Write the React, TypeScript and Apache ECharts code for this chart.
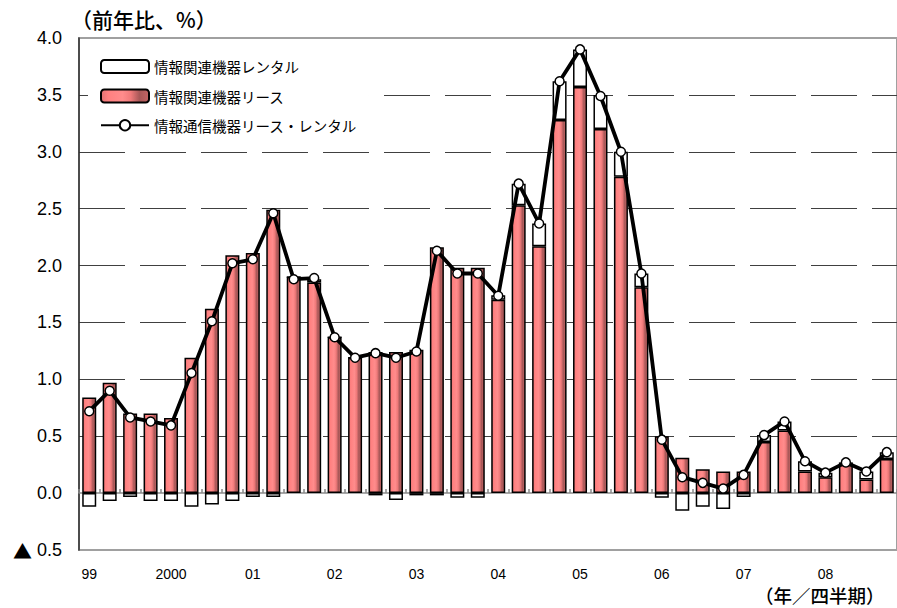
import React, { useEffect, useRef } from "react";
import * as echarts from "echarts";

const years = ["99", "2000", "01", "02", "03", "04", "05", "06", "07", "08"];
const quarters = [1, 2, 3, 4];

// 情報関連機器リース
const leaseValues = [
  0.84, 0.97, 0.70, 0.70,
  0.66, 1.19, 1.62, 2.09,
  2.11, 2.49, 1.90, 1.85,
  1.37, 1.19, 1.24, 1.24,
  1.26, 2.16, 1.98, 1.98,
  1.70, 2.53, 2.17, 3.28,
  3.57, 3.20, 2.78, 1.81,
  0.50, 0.31, 0.21, 0.19,
  0.19, 0.45, 0.55, 0.19,
  0.14, 0.25, 0.12, 0.30,
];

// 情報関連機器レンタル
const rentalValues = [
  -0.12, -0.07, -0.035, -0.07,
  -0.07, -0.12, -0.10, -0.07,
  -0.035, -0.035, 0, 0.03,
  0, 0, -0.02, -0.06,
  -0.02, -0.02, -0.04, -0.04,
  0.04, 0.19, 0.20, 0.34,
  0.33, 0.30, 0.22, 0.12,
  -0.04, -0.155, -0.12, -0.14,
  -0.035, 0.06, 0.08, 0.09,
  0.04, 0.02, 0.07, 0.06,
];

// 情報通信機器リース・レンタル
const totalValues = [
  0.72, 0.90, 0.665, 0.63,
  0.595, 1.055, 1.51, 2.02,
  2.055, 2.46, 1.88, 1.89,
  1.37, 1.19, 1.23, 1.19,
  1.245, 2.13, 1.93, 1.93,
  1.735, 2.72, 2.37, 3.62,
  3.90, 3.49, 3.00, 1.93,
  0.47, 0.14, 0.09, 0.04,
  0.16, 0.51, 0.63, 0.28,
  0.18, 0.27, 0.19, 0.36,
];

const seriesNames = ["情報関連機器レンタル", "情報関連機器リース", "情報通信機器リース・レンタル"];
const titleText = "（前年比、%）";
const unitText = "（年／四半期）";

const categories: string[] = [];
years.forEach((y) => quarters.forEach((q) => categories.push(`${y}-${q}`)));

const JP = "'Noto Sans CJK JP', 'Noto Sans', sans-serif";
const NUM = "'Liberation Sans', Arial, 'Noto Sans CJK JP', sans-serif";

export default function App() {
  const ref = useRef<HTMLDivElement>(null);

  useEffect(() => {
    if (!ref.current) return;
    const chart = echarts.init(ref.current, undefined, { renderer: "svg" });

    const barGradient = new echarts.graphic.LinearGradient(0, 0, 1, 0, [
      { offset: 0, color: "#e07272" },
      { offset: 0.15, color: "#ff8080" },
      { offset: 0.45, color: "#ff8c8c" },
      { offset: 0.62, color: "#f07a7a" },
      { offset: 0.8, color: "#a85858" },
      { offset: 1, color: "#c46464" },
    ]);

    const splitColors = ["rgba(0,0,0,0)", "rgba(0,0,0,0)"];
    for (let i = 0; i < 7; i++) splitColors.push("#404040");
    splitColors.push("rgba(0,0,0,0)");

    chart.setOption({
      animation: false,
      backgroundColor: "#fff",
      grid: {
        left: 79,
        top: 38,
        width: 824,
        bottom: 58,
        show: true,
        borderColor: "#a0a0a0",
        borderWidth: 2,
        backgroundColor: "transparent",
      },
      legend: {
        orient: "vertical",
        left: 88,
        top: 52,
        itemWidth: 48,
        itemHeight: 13,
        itemGap: 14.5,
        padding: [7, 12, 7, 12],
        backgroundColor: "#fff",
        selectedMode: false,
        data: seriesNames,
        textStyle: { fontFamily: JP, fontSize: 14.5, color: "#000" },
      },
      xAxis: [
        {
          type: "category",
          data: categories,
          position: "bottom",
          axisLine: { show: false, onZero: false },
          axisTick: { show: false },
          splitLine: { show: false },
          axisLabel: {
            interval: 0,
            margin: 17,
            fontFamily: NUM,
            fontSize: 14,
            lineHeight: 14,
            color: "#000",
            formatter: (v: string) => {
              const [y, q] = v.split("-");
              return q === "1" ? y : "";
            },
          },
        },
        {
          type: "category",
          data: categories,
          position: "top",
          axisLine: { show: true, onZero: true, lineStyle: { color: "#8a8a8a", width: 1.5 } },
          axisTick: { show: true, interval: 0, length: 4, lineStyle: { color: "#8a8a8a", width: 1.5 } },
          axisLabel: { show: false },
          splitLine: { show: false },
        },
      ],
      yAxis: {
        type: "value",
        min: -0.5,
        max: 4.0,
        interval: 0.5,
        axisLine: { show: true, lineStyle: { color: "#303030", width: 1.5 } },
        axisTick: { show: false },
        axisLabel: {
          margin: 17,
          fontFamily: NUM,
          fontSize: 18,
          color: "#000",
          formatter: (v: number) => (v < 0 ? "{tri|▲} " + Math.abs(v).toFixed(1) : v.toFixed(1)),
          rich: {
            tri: { fontFamily: JP, fontSize: 19, color: "#000" },
          },
        },
        splitLine: {
          show: true,
          lineStyle: { color: splitColors, width: 1, type: [46, 15] },
        },
      },
      series: [
        {
          name: seriesNames[1],
          type: "bar",
          stack: "total",
          barWidth: 14,
          data: leaseValues,
          itemStyle: { color: barGradient, borderColor: "#000", borderWidth: 1.5 },
        },
        {
          name: seriesNames[0],
          type: "bar",
          stack: "total",
          barWidth: 14,
          data: rentalValues,
          itemStyle: { color: "#fff", borderColor: "#000", borderWidth: 1.5 },
        },
        {
          name: seriesNames[2],
          type: "line",
          data: totalValues,
          symbol: "circle",
          symbolSize: 9,
          z: 5,
          lineStyle: { color: "#000", width: 3.8 },
          itemStyle: { color: "#fff", borderColor: "#000", borderWidth: 1.5 },
        },
      ],
      graphic: [
        {
          type: "text",
          x: 71,
          y: 19,
          style: {
            text: titleText,
            font: `500 21px ${JP}`,
            lineHeight: 22,
            fill: "#000",
            verticalAlign: "middle",
          },
        },
        {
          type: "text",
          x: 755,
          y: 594.5,
          style: {
            text: unitText,
            font: `500 18.5px ${JP}`,
            lineHeight: 19,
            fill: "#000",
            verticalAlign: "middle",
          },
        },
      ],
    });

    return () => chart.dispose();
  }, []);

  return (
    <div
      ref={ref}
      style={{ position: "fixed", left: 0, top: 0, width: 897, height: 608, background: "#fff" }}
    />
  );
}
